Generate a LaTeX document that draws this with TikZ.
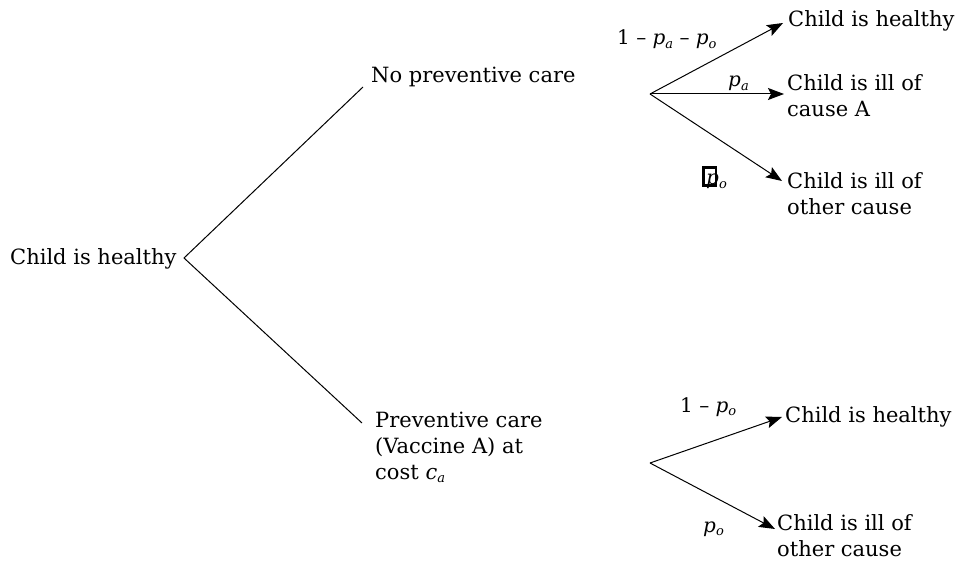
\documentclass[tikz,border=0pt]{standalone}
\usepackage{fontspec}
\setmainfont{DejaVu Serif}
\usetikzlibrary{arrows.meta}
\newcommand\sbs[1]{\raisebox{-0.35ex}{\fontsize{13}{13}\selectfont\itshape #1}}
\newcommand\pp[1]{\textit{p}\sbs{#1}}
\begin{document}
\begin{tikzpicture}[x=1pt,y=-1pt,
  lab/.style={font=\fontsize{21}{26}\selectfont, inner sep=0pt, anchor=base west, align=left},
  prob/.style={font=\fontsize{20}{24}\selectfont, inner sep=0pt, anchor=base west},
  arr/.style={-{Stealth[length=16pt,width=12pt,inset=3pt]}, line width=1pt},
  ln/.style={line width=1pt}]
\useasboundingbox (0,0) rectangle (958,561);
% nodes (base anchor of a multi-line node is the baseline of its last line)
\node[lab] (start) at (10,265) {Child is healthy};
\node[lab] (nopc) at (371,83) {No preventive care};
\node[lab] (pc) at (375,479) {Preventive care\\(Vaccine A) at\\cost \textit{c}\sbs{a}};
\node[lab] (a1) at (788,27) {Child is healthy};
\node[lab] (a2) at (787,117) {Child is ill of\\cause A};
\node[lab] (a3) at (787,215) {Child is ill of\\other cause};
\node[lab] (b1) at (785,422) {Child is healthy};
\node[lab] (b2) at (777,556) {Child is ill of\\other cause};
% coordinates
\coordinate (root) at (184,258);
\coordinate (e1) at (363,87);
\coordinate (e2) at (362,423);
\coordinate (fa) at (650,94);
\coordinate (fb) at (650,463);
\coordinate (ta1) at (783,23);
\coordinate (ta2) at (784,94);
\coordinate (ta3) at (782,181);
\coordinate (tb1) at (782,417);
\coordinate (tb2) at (775,529);
% branches
\draw[ln] (e1) -- (root) -- (e2);
\draw[arr] (fa) -- (ta1);
\draw[arr] (fa) -- (ta2);
\draw[arr] (fa) -- (ta3);
\draw[arr] (fb) -- (tb1);
\draw[arr] (fb) -- (tb2);
% probabilities
\node[prob] (pa1) at (617,45) {1 – \pp{a} – \pp{o}};
\node[prob] (pa2) at (728,87) {\pp{a}};
\node[prob] (pa3) at (706,185) {\pp{o}};
\draw[line width=2.6pt] (703.3,167.3) rectangle (716,185.7);
\node[prob] (pb1) at (680,412) {1 – \pp{o}};
\node[prob] (pb2) at (703,532) {\pp{o}};
\end{tikzpicture}
\end{document}
